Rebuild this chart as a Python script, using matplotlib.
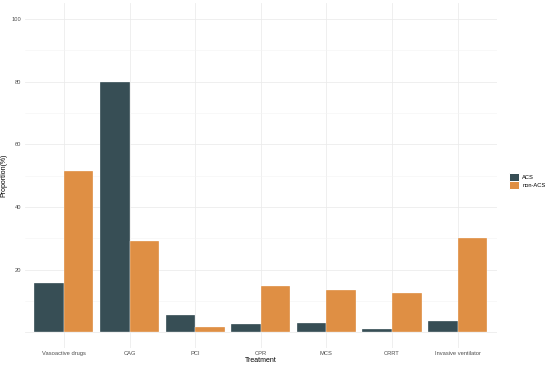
import matplotlib
matplotlib.use('Agg')
from matplotlib import pyplot as plt
from matplotlib.patches import Patch
import numpy as np

plt.rcParams['font.family'] = ['Liberation Sans', 'DejaVu Sans']

treatments = ['Vasoactive drugs', 'CAG', 'PCI', 'CPR', 'MCS', 'CRRT', 'Invasive ventilator']
acs = [15.9, 80.0, 5.5, 2.5, 3.1, 1.2, 3.7]
non_acs = [51.4, 29.3, 1.8, 14.8, 13.5, 12.6, 30.0]
groups = ['ACS', 'non-ACS']
colors = ['#374E55', '#DF8F44']

fig = plt.figure(figsize=(554/72, 370/72), dpi=72)
W, H = 554, 370
ax = fig.add_axes([24.6/W, (H-348)/H, (497-24.6)/W, (348-3.3)/H])

x = np.arange(1, len(treatments)+1)
w = 0.45
ax.bar(x - w/2, acs, width=w, color=colors[0], edgecolor='#ffffff', linewidth=0.3, zorder=3)
ax.bar(x + w/2, non_acs, width=w, color=colors[1], edgecolor='#ffffff', linewidth=0.3, zorder=3)

ax.set_xlim(0.4, len(treatments)+0.6)
ax.set_ylim(-5, 105)
ax.set_xticks(x)
ax.set_xticklabels(treatments)
ax.set_yticks([0, 20, 40, 60, 80, 100])
ax.set_yticklabels(['', '20', '40', '60', '80', '100'])
ax.set_yticks([10, 30, 50, 70, 90], minor=True)
ax.tick_params(axis='both', which='both', length=0, labelsize=5.7, labelcolor='#4d4d4d', pad=3)

ax.grid(True, which='major', color='#EBEBEB', linewidth=0.8, zorder=0)
ax.grid(True, which='minor', axis='y', color='#F3F3F3', linewidth=0.5, zorder=0)
for s in ax.spines.values():
    s.set_visible(False)

ax.set_xlabel('Treatment', fontsize=7, labelpad=1)
ax.set_ylabel('Proportion(%)', fontsize=7, labelpad=4)

handles = [Patch(facecolor=c, edgecolor='#ffffff', label=g) for c, g in zip(colors, groups)]
fig.legend(handles=handles, loc='center left', bbox_to_anchor=(504/W, 1 - 181/H),
           frameon=False, fontsize=5.7, handlelength=1.8, handleheight=1.8,
           handletextpad=0.5, labelspacing=0.05)

fig.savefig('out.png', dpi=72)
